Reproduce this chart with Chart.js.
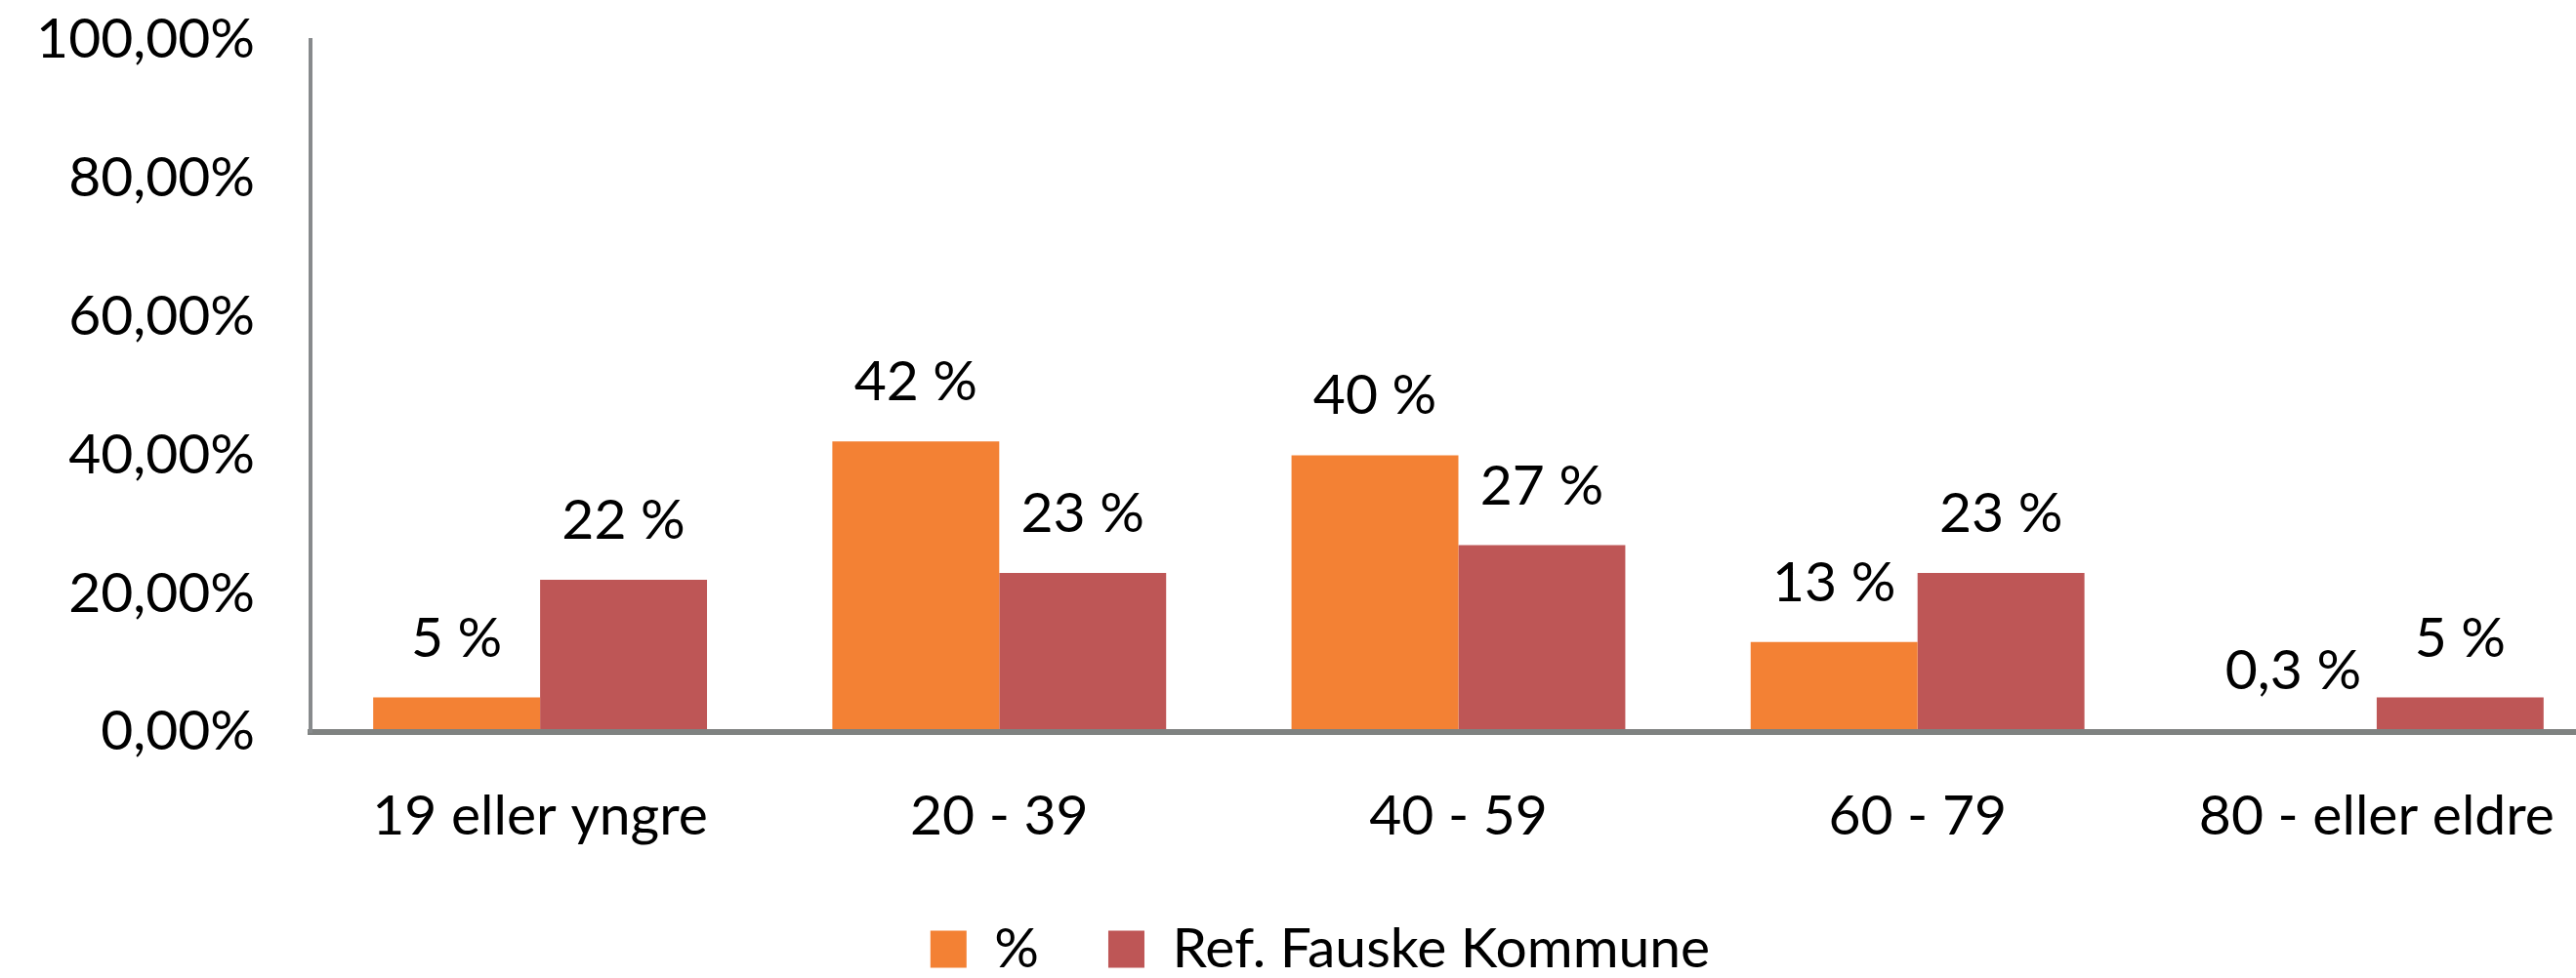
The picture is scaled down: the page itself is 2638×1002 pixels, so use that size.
<!DOCTYPE html>
<html>
<head>
<meta charset="utf-8">
<script src="https://cdn.jsdelivr.net/npm/chart.js"></script>
<style>
  html, body { margin: 0; padding: 0; background: #fff; overflow: hidden; }
  canvas { display: block; }
</style>
</head>
<body>
<canvas id="bar-chart" width="2680" height="1002" style="width:2680px;height:1002px"></canvas>
<script>
// Aldersfordeling mot referanse
const categories = ['19 eller yngre', '20 - 39', '40 - 59', '60 - 79', '80 - eller eldre'];
const seriesNames = ['%', 'Ref. Fauske Kommune'];
const andel = [5, 42, 40, 13, 0.3];
const refFauske = [22, 23, 27, 23, 5];
const yTicks = [0, 20, 40, 60, 80, 100];

const fontFamily = 'Lato, "Open Sans", sans-serif';

const formatLabel = v => (Number.isInteger(v) ? String(v) : String(v).replace('.', ',')) + ' %';

// labels over the bars
const barLabels = {
    id: 'barLabels',
    afterDatasetsDraw(chart) {
        const ctx = chart.ctx;
        ctx.save();
        ctx.font = '57px ' + fontFamily;
        ctx.fillStyle = '#000';
        ctx.textAlign = 'center';
        ctx.textBaseline = 'alphabetic';
        chart.data.datasets.forEach((ds, di) => {
            chart.getDatasetMeta(di).data.forEach((bar, i) => {
                ctx.fillText(formatLabel(ds.data[i]), bar.x, bar.y - 42);
            });
        });
        ctx.restore();
    }
};

new Chart(
    document.getElementById('bar-chart'),
    {
        type: 'bar',
        data: {
            labels: categories,
            datasets: [
                { label: seriesNames[0], data: andel, backgroundColor: '#F38134' },
                { label: seriesNames[1], data: refFauske, backgroundColor: '#BE5656' }
            ]
        },
        options: {
            responsive: false,
            animation: false,
            layout: { padding: { top: 41, left: 35, right: 11, bottom: -9 } },
            datasets: {
                bar: { categoryPercentage: 0.727, barPercentage: 1.0 }
            },
            scales: {
                x: {
                    afterFit: scale => { scale.height = 123; },
                    grid: { display: false, drawTicks: false },
                    border: { display: true, color: '#7f8281', width: 6, z: 1 },
                    ticks: {
                        color: '#000',
                        padding: 58,
                        maxRotation: 0,
                        autoSkip: false,
                        font: { family: fontFamily, size: 57, lineHeight: 1 }
                    }
                },
                y: {
                    min: 0,
                    max: 100,
                    afterFit: scale => {
                        scale.width = 283;
                        scale.paddingTop = 0;
                        scale.paddingBottom = 0;
                    },
                    afterBuildTicks: scale => { scale.ticks = yTicks.map(v => ({ value: v })); },
                    grid: { display: false, drawTicks: false },
                    border: { display: true, color: '#878a8c', width: 4, z: 1 },
                    ticks: {
                        color: '#000',
                        padding: 57,
                        font: { family: fontFamily, size: 57, lineHeight: 1.2 },
                        callback: v => v.toFixed(2).replace('.', ',') + '%'
                    }
                }
            },
            plugins: {
                legend: {
                    position: 'bottom',
                    labels: {
                        color: '#000',
                        boxWidth: 37,
                        boxHeight: 38,
                        padding: 71,
                        font: { family: fontFamily, size: 57 }
                    }
                },
                tooltip: { enabled: false }
            }
        },
        plugins: [barLabels]
    }
);
</script>
</body>
</html>
